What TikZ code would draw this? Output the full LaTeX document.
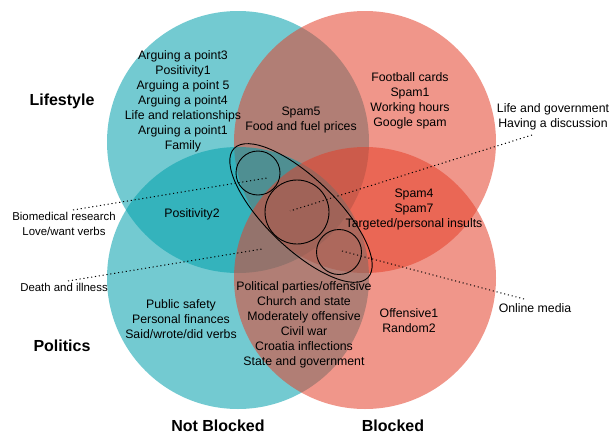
\documentclass[tikz,border=0pt]{standalone}
\usepackage{fontspec}
\setmainfont{Liberation Sans}
\usepackage{tikz}
\usetikzlibrary{
        positioning,
        shapes,
        shapes.geometric
    }
\definecolor{lifeteal}{RGB}{0,159,171}
\definecolor{blockred}{RGB}{228,64,42}
\tikzset{venn/.style={circle,minimum size=262pt,inner sep=0pt,fill opacity=0.55}}
\tikzset{topic/.style={align=center,font=\fontsize{12.3}{15}\selectfont}}
\tikzset{sidenote/.style={align=center,font=\fontsize{11.4}{15}\selectfont}}
\tikzset{heading/.style={font=\fontsize{16}{18}\bfseries\selectfont}}
\tikzset{pointer/.style={line width=1pt,dash pattern=on 1.1pt off 2.8pt}}

\begin{document}
\begin{tikzpicture}[x=1pt,y=-1pt]
                \useasboundingbox (0,0) rectangle (613,434);
                \tikzset{every node/.style={inner sep=0pt}}
                % the four sets
                \node[venn,fill=lifeteal] (life) at (238,142) {};
                \node[venn,fill=blockred] (lifeb) at (365,142) {};
                \node[venn,fill=lifeteal] (pol) at (238,278) {};
                \node[venn,fill=blockred] (polb) at (365,278) {};
                % cluster in the middle
                \node[ellipse,draw,line width=0.9pt,rotate=-44,minimum width=186pt,minimum height=70pt] (cluster) at (301,213) {};
                \node[circle,draw,line width=0.9pt,minimum size=44pt] (biocirc) at (258,173) {};
                \node[circle,draw,line width=0.9pt,minimum size=64pt] (govcirc) at (297,212) {};
                \node[circle,draw,line width=0.9pt,minimum size=45pt] (mediacirc) at (339,252) {};
                % headings
                \node[heading] (lifestyle) at (62,101) {Lifestyle};
                \node[heading] (politics) at (62,346) {Politics};
                \node[heading] (notblocked) at (218,425.5) {Not Blocked};
                \node[heading] (blocked) at (393,425.5) {Blocked};
                % topics
                \node[topic] (lifeonly) at (183,101) {Arguing a point3\\Positivity1\\Arguing a point 5\\Arguing a point4\\Life and relationships\\Arguing a point1\\Family};
                \node[topic] (lifeboth) at (301,120) {Spam5\\Food and fuel prices};
                \node[topic] (lifeblocked) at (410,101) {Football cards\\Spam1\\Working hours\\Google spam};
                \node[topic] (posit) at (192,214) {Positivity2};
                \node[topic] (insults) at (414,209) {Spam4\\Spam7\\Targeted/personal insults};
                \node[topic] (polonly) at (181,319) {Public safety\\Personal finances\\Said/wrote/did verbs};
                \node[topic] (polboth) at (304,325) {Political parties/offensive\\Church and state\\Moderately offensive\\Civil war\\Croatia inflections\\State and government};
                \node[topic] (polblocked) at (409,321) {Offensive1\\Random2};
                % side notes
                \node[topic] (lifegov) at (553,117) {Life and government\\Having a discussion};
                \node[sidenote] (biomed) at (64,224) {Biomedical research\\Love/want verbs};
                \node[sidenote] (death) at (64,287) {Death and illness};
                \node[topic] (online) at (535,308) {Online media};
                \coordinate (lifegovtail) at (532,135);
                \coordinate (lifegovtip) at (290,211);
                \coordinate (biomedtail) at (73,210);
                \coordinate (biomedtip) at (267,178);
                \coordinate (deathtail) at (68,281);
                \coordinate (deathtip) at (262,249);
                \coordinate (onlinetail) at (524,299);
                \coordinate (onlinetip) at (342,251);
                \path[pointer]
                    (lifegovtail) edge (lifegovtip)
                    (biomedtail) edge (biomedtip)
                    (deathtail) edge (deathtip)
                    (onlinetail) edge (onlinetip)
                ;
            \end{tikzpicture}
\end{document}
